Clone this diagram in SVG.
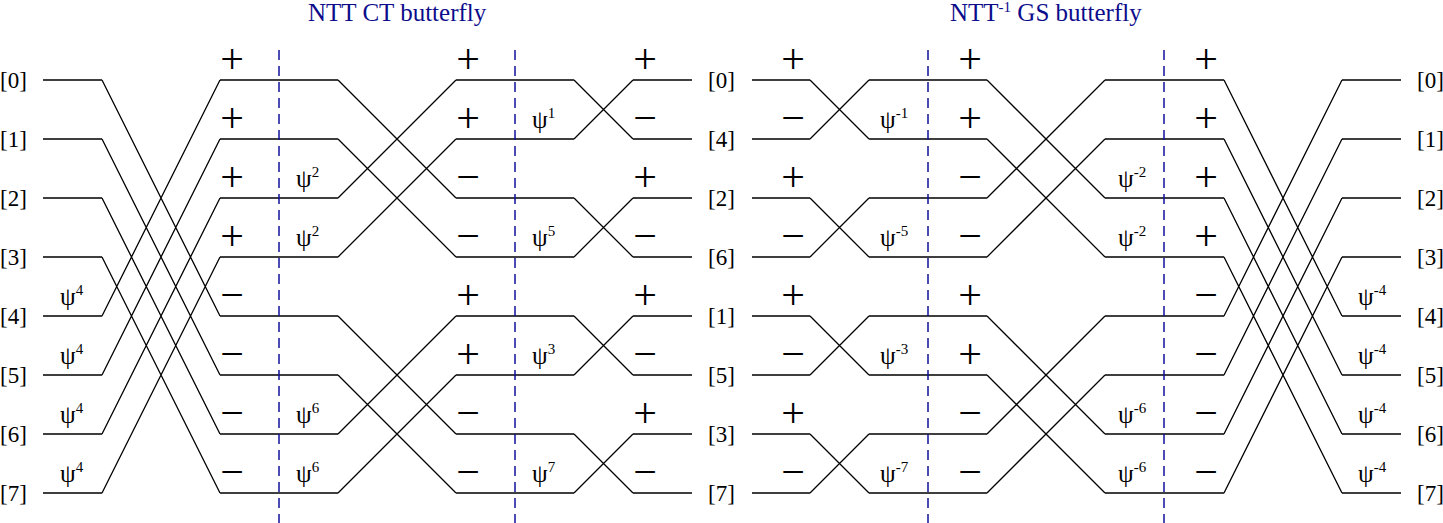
<svg xmlns="http://www.w3.org/2000/svg" width="1443" height="523" viewBox="0 0 1443 523">
<style>
text{font-family:"Liberation Serif","Times New Roman",serif;fill:#000}
.lb{font-size:23px}
.pm{font-size:42px;text-anchor:middle}
.ps{font-size:25px}
.sp{font-size:15px}
.ti{font-size:25px;fill:#0c0c8c}
.ti .sp{font-size:15px}
.w{fill:none;stroke:#000;stroke-width:1.3}
.dash{fill:none;stroke:#10109a;stroke-width:1.5;stroke-dasharray:10 6}
</style>
<rect width="1443" height="523" fill="#fff"/>
<g id="titles">
<text class="ti" x="308" y="21">NTT CT butterfly</text>
<text class="ti" x="950" y="21">NTT<tspan class="sp" dy="-9">-1</tspan><tspan dy="9"> GS butterfly</tspan></text>
</g>
<g id="connectors">
<path class="w" d="M43 80H102M43 139H102M43 198H102M43 257H102M43 316H102M43 375H102M43 434H102M43 493H102
M102 80L220 316M102 139L220 375M102 198L220 434M102 257L220 493M102 316L220 80M102 375L220 139M102 434L220 198M102 493L220 257
M220 80H338M220 139H338M220 198H338M220 257H338M220 316H338M220 375H338M220 434H338M220 493H338
M338 80L456 198M338 198L456 80M338 139L456 257M338 257L456 139M338 316L456 434M338 434L456 316M338 375L456 493M338 493L456 375
M456 80H574M456 139H574M456 198H574M456 257H574M456 316H574M456 375H574M456 434H574M456 493H574
M574 80L633 139M574 139L633 80M574 198L633 257M574 257L633 198M574 316L633 375M574 375L633 316M574 434L633 493M574 493L633 434
M633 80H692M633 139H692M633 198H692M633 257H692M633 316H692M633 375H692M633 434H692M633 493H692"/>
<path class="w" d="M752 80H810M752 139H810M752 198H810M752 257H810M752 316H810M752 375H810M752 434H810M752 493H810
M810 80L869 139M810 139L869 80M810 198L869 257M810 257L869 198M810 316L869 375M810 375L869 316M810 434L869 493M810 493L869 434
M869 80H987M869 139H987M869 198H987M869 257H987M869 316H987M869 375H987M869 434H987M869 493H987
M987 80L1105 198M987 198L1105 80M987 139L1105 257M987 257L1105 139M987 316L1105 434M987 434L1105 316M987 375L1105 493M987 493L1105 375
M1105 80H1224M1105 139H1224M1105 198H1224M1105 257H1224M1105 316H1224M1105 375H1224M1105 434H1224M1105 493H1224
M1224 80L1342 316M1224 139L1342 375M1224 198L1342 434M1224 257L1342 493M1224 316L1342 80M1224 375L1342 139M1224 434L1342 198M1224 493L1342 257
M1342 80H1401M1342 139H1401M1342 198H1401M1342 257H1401M1342 316H1401M1342 375H1401M1342 434H1401M1342 493H1401"/>
<path class="dash" d="M279 50V523M515 50V523M928 50V523M1164 50V523"/>
</g>
<g id="index-in">
<text class="lb" x="0" y="88">[0]</text>
<text class="lb" x="0" y="147">[1]</text>
<text class="lb" x="0" y="206">[2]</text>
<text class="lb" x="0" y="265">[3]</text>
<text class="lb" x="0" y="324">[4]</text>
<text class="lb" x="0" y="383">[5]</text>
<text class="lb" x="0" y="442">[6]</text>
<text class="lb" x="0" y="501">[7]</text>
</g>
<g id="index-mid">
<text class="lb" x="708" y="88">[0]</text>
<text class="lb" x="708" y="147">[4]</text>
<text class="lb" x="708" y="206">[2]</text>
<text class="lb" x="708" y="265">[6]</text>
<text class="lb" x="708" y="324">[1]</text>
<text class="lb" x="708" y="383">[5]</text>
<text class="lb" x="708" y="442">[3]</text>
<text class="lb" x="708" y="501">[7]</text>
</g>
<g id="index-out">
<text class="lb" x="1417" y="88">[0]</text>
<text class="lb" x="1417" y="147">[1]</text>
<text class="lb" x="1417" y="206">[2]</text>
<text class="lb" x="1417" y="265">[3]</text>
<text class="lb" x="1417" y="324">[4]</text>
<text class="lb" x="1417" y="383">[5]</text>
<text class="lb" x="1417" y="442">[6]</text>
<text class="lb" x="1417" y="501">[7]</text>
</g>
<g id="ct-stage1">
<text class="ps" x="60" y="305">ψ<tspan class="sp" dy="-10">4</tspan></text>
<text class="ps" x="60" y="364">ψ<tspan class="sp" dy="-10">4</tspan></text>
<text class="ps" x="60" y="423">ψ<tspan class="sp" dy="-10">4</tspan></text>
<text class="ps" x="60" y="482">ψ<tspan class="sp" dy="-10">4</tspan></text>
<text class="pm" x="232" y="73">+</text>
<text class="pm" x="232" y="132">+</text>
<text class="pm" x="232" y="191">+</text>
<text class="pm" x="232" y="250">+</text>
<text class="pm" x="232" y="309">−</text>
<text class="pm" x="232" y="368">−</text>
<text class="pm" x="232" y="427">−</text>
<text class="pm" x="232" y="486">−</text>
</g>
<g id="ct-stage2">
<text class="ps" x="296" y="187">ψ<tspan class="sp" dy="-10">2</tspan></text>
<text class="ps" x="296" y="246">ψ<tspan class="sp" dy="-10">2</tspan></text>
<text class="ps" x="296" y="423">ψ<tspan class="sp" dy="-10">6</tspan></text>
<text class="ps" x="296" y="482">ψ<tspan class="sp" dy="-10">6</tspan></text>
<text class="pm" x="468" y="73">+</text>
<text class="pm" x="468" y="132">+</text>
<text class="pm" x="468" y="191">−</text>
<text class="pm" x="468" y="250">−</text>
<text class="pm" x="468" y="309">+</text>
<text class="pm" x="468" y="368">+</text>
<text class="pm" x="468" y="427">−</text>
<text class="pm" x="468" y="486">−</text>
</g>
<g id="ct-stage3">
<text class="ps" x="532" y="128">ψ<tspan class="sp" dy="-10">1</tspan></text>
<text class="ps" x="532" y="246">ψ<tspan class="sp" dy="-10">5</tspan></text>
<text class="ps" x="532" y="364">ψ<tspan class="sp" dy="-10">3</tspan></text>
<text class="ps" x="532" y="482">ψ<tspan class="sp" dy="-10">7</tspan></text>
<text class="pm" x="645" y="73">+</text>
<text class="pm" x="645" y="132">−</text>
<text class="pm" x="645" y="191">+</text>
<text class="pm" x="645" y="250">−</text>
<text class="pm" x="645" y="309">+</text>
<text class="pm" x="645" y="368">−</text>
<text class="pm" x="645" y="427">+</text>
<text class="pm" x="645" y="486">−</text>
</g>
<g id="gs-stage1">
<text class="pm" x="793" y="73">+</text>
<text class="pm" x="793" y="132">−</text>
<text class="pm" x="793" y="191">+</text>
<text class="pm" x="793" y="250">−</text>
<text class="pm" x="793" y="309">+</text>
<text class="pm" x="793" y="368">−</text>
<text class="pm" x="793" y="427">+</text>
<text class="pm" x="793" y="486">−</text>
<text class="ps" x="880" y="128">ψ<tspan class="sp" dy="-10">-1</tspan></text>
<text class="ps" x="880" y="246">ψ<tspan class="sp" dy="-10">-5</tspan></text>
<text class="ps" x="880" y="364">ψ<tspan class="sp" dy="-10">-3</tspan></text>
<text class="ps" x="880" y="482">ψ<tspan class="sp" dy="-10">-7</tspan></text>
</g>
<g id="gs-stage2">
<text class="pm" x="970" y="73">+</text>
<text class="pm" x="970" y="132">+</text>
<text class="pm" x="970" y="191">−</text>
<text class="pm" x="970" y="250">−</text>
<text class="pm" x="970" y="309">+</text>
<text class="pm" x="970" y="368">+</text>
<text class="pm" x="970" y="427">−</text>
<text class="pm" x="970" y="486">−</text>
<text class="ps" x="1118" y="187">ψ<tspan class="sp" dy="-10">-2</tspan></text>
<text class="ps" x="1118" y="246">ψ<tspan class="sp" dy="-10">-2</tspan></text>
<text class="ps" x="1118" y="423">ψ<tspan class="sp" dy="-10">-6</tspan></text>
<text class="ps" x="1118" y="482">ψ<tspan class="sp" dy="-10">-6</tspan></text>
</g>
<g id="gs-stage3">
<text class="pm" x="1206" y="73">+</text>
<text class="pm" x="1206" y="132">+</text>
<text class="pm" x="1206" y="191">+</text>
<text class="pm" x="1206" y="250">+</text>
<text class="pm" x="1206" y="309">−</text>
<text class="pm" x="1206" y="368">−</text>
<text class="pm" x="1206" y="427">−</text>
<text class="pm" x="1206" y="486">−</text>
<text class="ps" x="1358" y="305">ψ<tspan class="sp" dy="-10">-4</tspan></text>
<text class="ps" x="1358" y="364">ψ<tspan class="sp" dy="-10">-4</tspan></text>
<text class="ps" x="1358" y="423">ψ<tspan class="sp" dy="-10">-4</tspan></text>
<text class="ps" x="1358" y="482">ψ<tspan class="sp" dy="-10">-4</tspan></text>
</g>
</svg>
